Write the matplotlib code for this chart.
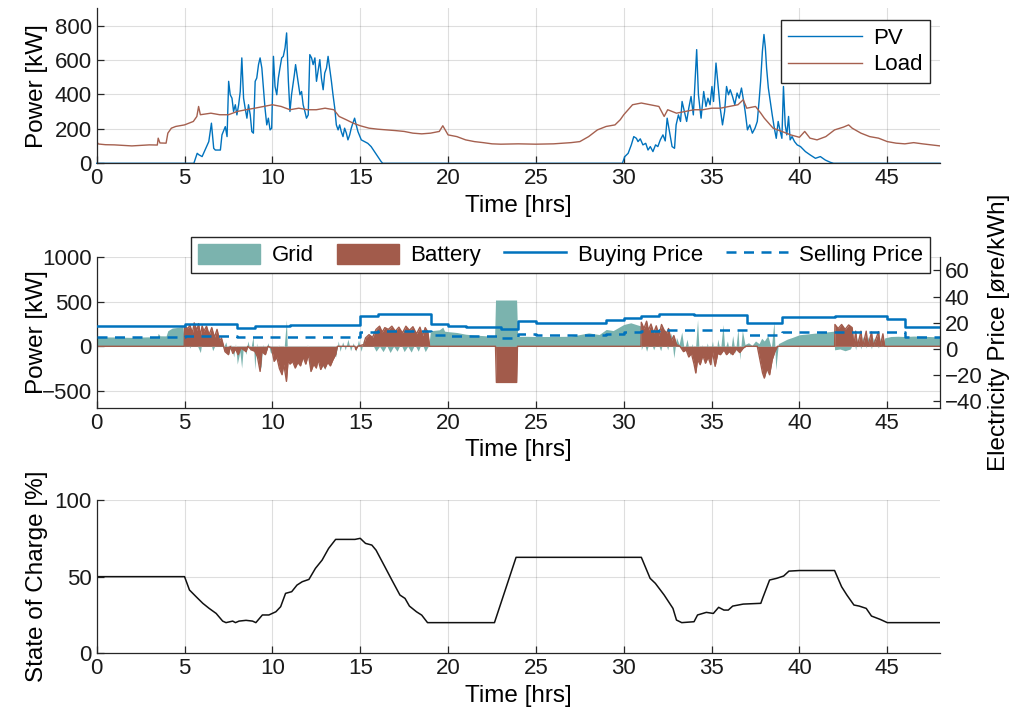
import numpy as np
import matplotlib
matplotlib.use('Agg')
import matplotlib.pyplot as plt
from matplotlib.patches import Patch
from matplotlib.lines import Line2D

# ---------------- data ----------------
hour_ticks = [0, 5, 10, 15, 20, 25, 30, 35, 40, 45]

pv_t = [0, 5.53, 5.72, 5.81, 6.0, 6.38, 6.53, 6.66, 6.75, 7.04, 7.13, 7.32, 7.42, 7.51, 7.6, 7.7,
        7.79, 7.89, 7.98, 8.08, 8.17, 8.26, 8.36, 8.45, 8.55, 8.64, 8.74, 8.83, 8.92, 9.02, 9.11,
        9.21, 9.3, 9.4, 9.49, 9.58, 9.68, 9.77, 9.87, 9.96, 10.06, 10.15, 10.25, 10.34, 10.43,
        10.53, 10.62, 10.72, 10.81, 10.91, 11.0, 11.09, 11.25, 11.32, 11.43, 11.57, 11.66, 11.75,
        11.85, 11.94, 12.04, 12.13, 12.23, 12.32, 12.42, 12.51, 12.6, 12.7, 12.79, 12.89, 12.98,
        13.08, 13.17, 13.26, 13.36, 13.45, 13.55, 13.64, 13.74, 13.83, 13.92, 14.02, 14.11, 14.21,
        14.3, 14.4, 14.49, 14.58, 14.68, 14.77, 14.87, 15.06, 15.25, 15.43, 15.62, 15.81, 16.0,
        16.19, 16.28,
        29.92, 30.06, 30.25, 30.43, 30.57, 30.72, 30.81, 30.94, 31.09, 31.25, 31.38, 31.51, 31.66,
        31.81, 31.94, 32.08, 32.23, 32.36, 32.47, 32.6, 32.75, 32.89, 32.98, 33.11, 33.23, 33.32,
        33.45, 33.58, 33.7, 33.83, 33.96, 34.08, 34.15, 34.25, 34.4, 34.55, 34.68, 34.79, 34.91,
        35.02, 35.11, 35.25, 35.38, 35.49, 35.62, 35.74, 35.85, 35.96, 36.06, 36.19, 36.32, 36.45,
        36.57, 36.7, 36.81, 36.91, 37.04, 37.17, 37.32, 37.47, 37.6, 37.7, 37.79, 37.89, 37.98,
        38.06, 38.13, 38.23, 38.34, 38.45, 38.57, 38.68, 38.79, 38.91, 39.0, 39.09, 39.19, 39.28,
        39.38, 39.47, 39.58, 39.72, 39.87, 40.06, 40.34, 40.62, 40.91, 41.19, 41.47, 41.75, 41.94,
        48]
pv_kw = [0, 0, 58, 50, 39, 126, 233, 87, 77, 77, 165, 213, 155, 476, 398, 378,
         301, 340, 281, 340, 417, 612, 378, 320, 262, 340, 281, 184, 175, 476, 495,
         573, 612, 553, 437, 320, 223, 262, 194, 204, 621, 446, 398, 495, 553,
         612, 621, 670, 757, 476, 301, 398, 514, 573, 495, 398, 417, 340,
         301, 262, 281, 631, 612, 573, 612, 476, 534, 602, 495, 427, 524,
         553, 621, 553, 476, 398, 320, 223, 194, 223, 184, 155, 204, 175,
         136, 165, 204, 233, 262, 223, 184, 136, 126, 116, 97, 68, 39,
         10, 0,
         0, 39, 58, 107, 155, 145, 126, 142, 107, 116, 77, 97, 68,
         107, 97, 136, 165, 130, 262, 184, 97, 87, 223, 281, 243, 359,
         301, 243, 320, 388, 281, 514, 660, 398, 262, 417, 330, 378, 340,
         446, 359, 582, 437, 320, 223, 301, 446, 398, 427, 388, 340, 408,
         378, 437, 369, 301, 194, 223, 175, 204, 243, 359, 476, 650, 748,
         670, 553, 437, 359, 281, 204, 145, 243, 184, 145, 446, 223, 165,
         272, 136, 155, 126, 107, 97, 68, 48, 29, 39, 19, 6, 0,
         0]

load_t = [0, 0.1, 0.5, 1, 1.5, 2, 2.5, 3, 3.45, 3.5, 3.6, 3.95, 4.05, 4.25, 4.5, 5, 5.25, 5.5,
          5.7, 5.8, 5.9, 6.5, 7, 7.5, 8, 8.5, 9, 9.5, 10, 10.5, 11, 11.5, 12, 12.5, 13, 13.5,
          13.8, 14.2, 14.6, 15, 15.5, 16, 16.5, 17, 17.5, 18, 18.5, 19, 19.5, 19.7, 20, 20.5,
          21, 21.5, 22, 22.5, 23, 24, 25, 26, 27, 27.5, 28, 28.5, 29, 29.5, 29.8, 30, 30.5, 31,
          31.5, 32, 32.3, 32.5, 33, 33.5, 34, 34.5, 35, 35.5, 36, 36.5, 36.8, 37, 37.5, 37.8,
          38, 38.5, 39, 39.5, 40, 40.3, 40.6, 41, 41.5, 42, 42.5, 42.8, 43, 43.5, 44, 44.5,
          45, 45.5, 46, 46.5, 47, 48]
load_kw = [125, 112, 108, 107, 104, 101, 104, 107, 106, 146, 118, 117, 175, 204, 214, 223, 233,
           243, 272, 330, 282, 291, 282, 282, 301, 311, 320, 330, 340, 330, 311, 320, 311, 311,
           320, 311, 272, 253, 233, 218, 204, 198, 194, 190, 185, 175, 171, 175, 185, 218, 165,
           155, 136, 126, 120, 113, 111, 113, 111, 113, 120, 126, 155, 194, 214, 223, 253, 282,
           340, 350, 340, 330, 272, 311, 291, 301, 311, 311, 320, 320, 330, 340, 369, 320, 330,
           291, 262, 204, 185, 165, 151, 185, 146, 136, 155, 194, 210, 223, 204, 175, 155, 146,
           126, 117, 113, 120, 113, 101]

grid_t = [0, 0.5, 1, 1.5, 2, 2.5, 3, 3.45, 3.5, 3.6, 3.95, 4.05, 4.3, 4.6, 4.9, 5.0, 5.15, 5.3,
          5.5, 5.7, 5.9, 6.0, 6.2, 6.4, 6.6, 6.8, 7.0, 7.2, 7.35, 7.5, 7.65, 7.8, 7.9, 8.0, 8.15,
          8.25, 8.35, 8.5, 8.6, 8.75, 8.9, 9.0, 9.1, 9.25, 9.35, 9.45, 9.6, 9.75, 9.9, 10.05,
          10.2, 10.35, 10.5, 10.65, 10.8, 10.85, 11.0, 11.2, 11.4, 11.6, 11.8, 12.0, 12.15, 12.3,
          12.5, 12.65, 12.8, 13.0, 13.15, 13.3, 13.45, 13.6, 13.75, 13.85, 14.0, 14.15, 14.3,
          14.45, 14.6, 14.75, 14.9, 15.05, 15.2, 15.35, 15.5, 15.7, 15.9, 16.1, 16.3, 16.5, 16.7,
          16.9, 17.1, 17.3, 17.5, 17.7, 17.9, 18.1, 18.3, 18.5, 18.7, 18.9, 19.0, 19.5, 19.7,
          19.8, 20, 20.5, 21, 21.5, 22, 22.5, 22.65, 22.7, 23.9, 23.96, 24.5, 25, 26, 27, 28,
          28.6, 29, 29.4, 30, 30.4, 30.7, 30.95, 31.0, 31.15, 31.3, 31.5, 31.7, 31.9, 32.1, 32.3,
          32.5, 32.7, 32.85, 33.0, 33.15, 33.3, 33.45, 33.6, 33.75, 33.9, 34.05, 34.2, 34.3,
          34.45, 34.6, 34.75, 34.9, 35.05, 35.2, 35.35, 35.5, 35.65, 35.75, 35.9, 36.05, 36.2,
          36.35, 36.5, 36.6, 36.75, 36.9, 37.1, 37.3, 37.5, 37.7, 37.85, 38.0, 38.2, 38.4, 38.55,
          38.65, 38.8, 39.0, 39.3, 39.6, 40.0, 40.5, 41.0, 41.5, 41.95, 42.0, 42.3, 42.6, 42.9,
          43.1, 43.2, 43.3, 43.5, 43.6, 43.8, 43.9, 44.1, 44.2, 44.5, 44.6, 44.75, 44.85, 45.2,
          45.6, 46, 46.5, 47, 48]
grid_kw = [110, 105, 105, 102, 100, 104, 106, 106, 145, 118, 117, 175, 205, 212, 222, 30, 60, -20,
           80, 20, -71, 60, 10, 120, -50, 40, 80, -20, 50, -90, 20, -120, 30, -200, -60,
           -244, 0, -90, 60, -50, 113, -260, 40, -150, -250, 20, -60, 40, -80, -30,
           -150, 20, -100, -60, 300, -40, -120, -30, -200, -50, -150, 20, -290, -60,
           -150, -40, -200, -260, -80, -150, -40, -120, 60, -56, 50, -40, 80,
           -50, 40, -56, 70, -56, 80, 40, 60, 20, -55, 0, -60, 10, -70,
           0, -55, 30, -60, 0, -65, 20, -55, 40, -60, 10, 175, 185, 215,
           170, 165, 155, 136, 126, 120, 113, 112, 520, 520, 112, 112, 110, 110, 113, 151,
           132, 189, 177, 245, 264, 245, 230, -40, 50, -56, 80, -40, 60, -50, 100,
           -40, 150, -131, 100, 20, 160, -50, 80, -80, 30, -120, 301, -100,
           20, -150, 40, -90, 60, -180, 80, -60, 245, -40, 60, -100, 120,
           -80, 200, -150, 180, 20, 40, 10, 60, 30, 90, 60, 120, -20, 282,
           -263, 30, 50, 80, 100, 130, 140, 150, 160, 170, -40, -30, -50, -30,
           60, -40, 100, -30, 110, -20, 110, -30, 100, -20, 100, 0, 94, 110,
           113, 110, 115, 113, 105]

batt_t = [0, 4.98, 5.0, 5.2, 5.3, 5.45, 5.55, 5.7, 5.8, 5.9, 6.0, 6.1, 6.25, 6.4, 6.55, 6.7, 6.85,
          7.0, 7.1, 7.2, 7.3, 7.5, 7.6, 7.75, 7.9, 8.05, 8.2, 8.35, 8.5, 8.6, 8.8, 9.0, 9.15, 9.3,
          9.4, 9.6, 9.75, 9.95, 10.1, 10.25, 10.4, 10.55, 10.65, 10.8, 10.9, 11.0, 11.15, 11.3,
          11.45, 11.6, 11.75, 11.9, 12.05, 12.2, 12.35, 12.5, 12.6, 12.75, 12.9, 13.0, 13.15,
          13.3, 13.45, 13.6, 13.7, 14.7, 14.75, 14.85, 15.2, 15.3, 15.5, 15.7, 15.9, 16.1, 16.25,
          16.4, 16.6, 16.8, 17.0, 17.2, 17.4, 17.6, 17.8, 18.0, 18.2, 18.4, 18.55, 18.7, 18.85,
          18.95, 22.7, 22.75, 23.9, 23.95,
          30.98, 31.0, 31.15, 31.3, 31.4, 31.55, 31.7, 31.85, 32.0, 32.15, 32.3, 32.45, 32.55,
          32.7, 32.85, 33.0, 33.2, 33.4, 33.55, 33.7, 33.85, 34.0, 34.1, 34.2, 34.35, 34.5, 34.65,
          34.8, 34.95, 35.05, 35.2, 35.35, 35.5, 35.7, 35.85, 36.0, 36.2, 36.4, 36.6, 36.8, 36.95,
          37.6, 37.75, 37.9, 38.0, 38.15, 38.3, 38.45, 38.6, 38.75, 42.0, 42.02, 42.2, 42.4,
          42.6, 42.8, 43.0, 43.1, 43.2, 43.3, 43.5, 43.6, 43.8, 43.9, 44.1, 44.2, 44.5, 44.6,
          44.75, 44.85, 48]
batt_kw = [0, 0, 226, 200, 240, 150, 263, 180, 255, 120, 230, 170, 226, 130, 210, 100, 190,
           60, 94, 20, -60, -94, 0, -80, -30, -94, -20, -38, -60, 0, -40, -56, -120, -282,
           -60, -94, 0, -20, -169, -120, -250, -319, -200, -394, -150, -200, -169, -244,
           -180, -220, -120, -200, -90, -282, -200, -244, -150, -260, -200, -244, -180,
           -220, -150, -94, 0, 0, -38, 0, 20, 94, 131, 100, 190, 226, 160,
           210, 190, 226, 170, 215, 150, 226, 180, 220, 140, 215, 120, 210, 160,
           0, 0, -406, -406, 0,
           0, 270, 200, 282, 180, 250, 150, 230, 120, 245, 180, 150, 200,
           60, 120, 20, 0, -60, -40, -120, -80, -200, -300, -150, -207, -100, -190,
           -120, -207, -60, -225, -80, -94, -40, -94, -60, -94, -30, -70, -20, 0,
           0, -150, -300, -357, -250, -320, -150, -60, 0, 0, 245, 200, 245,
           190, 240, 210, 0, 170, 0, 170, 0, 170, 0, 160, 0, 165, 0,
           140, 0, 0]

price_hours = list(range(49))
buy_price = [17.5, 17.5, 17.5, 17.5, 17.5, 18.7, 18.7, 18.7, 16.2, 17.5, 17.5, 18.6, 18.6, 18.6,
             18.6, 25.0, 26.6, 26.6, 26.6, 18.7, 17.2, 16.5, 16.5, 15.2, 21.0, 20.0, 20.0, 20.0,
             20.0, 22.0, 23.8, 25.0, 27.0, 27.0, 25.6, 25.6, 25.6, 20.0, 20.0, 24.0, 24.0, 24.0,
             25.0, 25.0, 25.0, 23.0, 17.0, 17.0]
sell_price = [9.3, 9.3, 9.3, 9.3, 9.3, 9.9, 9.9, 9.9, 9.3, 9.3, 9.3, 9.3, 9.3, 9.3,
              9.3, 13.1, 13.7, 13.7, 13.7, 10.6, 9.5, 9.5, 9.5, 8.3, 11.1, 10.8, 10.8, 10.8,
              10.8, 11.5, 13.0, 13.5, 14.4, 14.4, 14.4, 14.4, 14.4, 10.6, 10.6, 13.1, 13.1, 13.1,
              13.1, 13.1, 13.1, 12.5, 9.3, 9.3]

soc_t = [0, 5.0, 5.28, 5.66, 6.04, 6.4, 6.8, 7.17, 7.36, 7.74, 7.9, 8.1, 8.5, 8.87, 9.06, 9.43,
         9.8, 10.2, 10.47, 10.75, 11.1, 11.4, 11.7, 12.08, 12.45, 12.83, 13.2, 13.6, 14.7, 15.0,
         15.3, 15.66, 15.9, 16.4, 16.8, 17.26, 17.55, 17.8, 18.2, 18.5, 18.83, 22.64, 23.87,
         31.0, 31.5, 31.8, 32.3, 32.8, 33.0, 33.3, 34.0, 34.2, 34.7, 35.1, 35.4, 35.7, 35.95,
         36.2, 36.8, 37.8, 37.9, 38.3, 38.7, 39.1, 39.4, 40.0, 42.0, 42.4, 42.7, 43.1, 43.4,
         43.8, 44.1, 44.6, 45.0, 48]
soc = [50, 50, 41.3, 36.9, 32.6, 29.3, 26, 21, 20, 21, 20, 21, 21.5, 21, 20, 25,
       25, 27.1, 30.4, 39.1, 40.2, 44.5, 46.7, 48.2, 55.4, 60.8, 68.4, 74.3, 74.3, 75,
       71.7, 70.6, 67.3, 56.5, 47.8, 38, 35.8, 30.8, 27.1, 24.9, 20, 20, 62.6,
       62.6, 48.9, 45.6, 38, 29.3, 21.7, 20, 20.6, 25, 26.7, 26, 30, 28.2, 28.2,
       30.8, 32.1, 32.6, 35.8, 47.8, 48.9, 50.4, 53.6, 54, 54, 43.4, 38, 31.5, 30.8,
       29.3, 24.3, 22.1, 20, 20]

# ---------------- style ----------------
plt.rcParams['font.family'] = ['Liberation Sans', 'DejaVu Sans']
AXC = '#262626'
BLUE = '#0072BD'
LOADC = '#A5604F'
TEAL = '#7BB3AE'
RED = '#A25B4B'
TICK_FS = 16
LAB_FS = 17.5

fig = plt.figure(figsize=(10.13, 7.2), dpi=100)
W, H = 1013.0, 720.0


def rect(l, t, r, b):
    return [l / W, 1 - b / H, (r - l) / W, (b - t) / H]


def style(ax):
    ax.set_xlim(0, 48)
    ax.set_xticks(hour_ticks)
    ax.grid(True, color=AXC, alpha=0.15, linewidth=0.8)
    ax.set_axisbelow(True)
    for s in ['top', 'right']:
        ax.spines[s].set_visible(False)
    for s in ['left', 'bottom']:
        ax.spines[s].set_color(AXC)
        ax.spines[s].set_linewidth(0.9)
    ax.tick_params(direction='in', length=5, width=0.9, labelsize=TICK_FS, colors=AXC,
                   labelcolor='#1a1a1a')
    ax.set_xlabel('Time [hrs]', fontsize=LAB_FS, labelpad=4)


ax1 = fig.add_axes(rect(96.7, 8.3, 940, 163.3))
ax2 = fig.add_axes(rect(96.7, 257.3, 940, 407.7))
ax3 = fig.add_axes(rect(96.7, 500, 940, 653.3))

# --- top: PV and load
style(ax1)
l_pv, = ax1.plot(pv_t, pv_kw, color=BLUE, lw=1.0, clip_on=False)
l_load, = ax1.plot(load_t, load_kw, color=LOADC, lw=1.0)
ax1.set_ylim(0, 900)
ax1.set_yticks([0, 200, 400, 600, 800])
ax1.set_ylabel('Power [kW]', fontsize=LAB_FS)
ax1.legend([l_pv, l_load], ['PV', 'Load'], loc='upper right',
           bbox_to_anchor=(930 / W, 1 - 20 / H), bbox_transform=fig.transFigure,
           borderaxespad=0, fancybox=False, edgecolor=AXC, framealpha=1,
           fontsize=TICK_FS, handlelength=3.3, handletextpad=0.5, borderpad=0.35,
           labelspacing=0.25)

# --- middle: grid / battery / prices
style(ax2)
ax2.fill_between(grid_t, 0, grid_kw, color=TEAL, lw=0)
ax2.fill_between(batt_t, 0, batt_kw, color=RED, lw=0)
ax2.plot(batt_t, batt_kw, color=RED, lw=1.0)
ax2.set_ylim(-690, 1000)
ax2.set_yticks([-500, 0, 500, 1000])
ax2.set_ylabel('Power [kW]', fontsize=LAB_FS)

ax2r = ax2.twinx()
ax2r.set_position(ax2.get_position())
ax2r.step(price_hours, buy_price + [buy_price[-1]], where='post', color=BLUE, lw=1.8)
ax2r.step(price_hours, sell_price + [sell_price[-1]], where='post', color=BLUE, lw=1.8,
          linestyle=(0, (4, 3)))
ax2r.set_ylim(-45, 70)
ax2r.set_yticks([-40, -20, 0, 20, 40, 60])
for s in ['top', 'left', 'bottom']:
    ax2r.spines[s].set_visible(False)
ax2r.spines['right'].set_color(AXC)
ax2r.spines['right'].set_linewidth(0.9)
ax2r.tick_params(direction='in', length=5, width=0.9, labelsize=TICK_FS, colors=AXC,
                 labelcolor='#1a1a1a')
ax2r.set_xlim(0, 48)
ax2r.set_ylabel('Electricity Price [øre/kWh]', fontsize=LAB_FS)

handles = [Patch(facecolor=TEAL, edgecolor=TEAL), Patch(facecolor=RED, edgecolor=RED),
           Line2D([], [], color=BLUE, lw=1.8), Line2D([], [], color=BLUE, lw=1.8, linestyle=(0, (4, 3)))]
ax2r.legend(handles, ['Grid', 'Battery', 'Buying Price', 'Selling Price'], ncol=4,
            loc='upper right', bbox_to_anchor=(930 / W, 1 - 237 / H),
            bbox_transform=fig.transFigure, borderaxespad=0, fancybox=False, edgecolor=AXC,
            framealpha=1, fontsize=TICK_FS, handlelength=2.8, handleheight=1.0,
            handletextpad=0.5, columnspacing=1.05, borderpad=0.3)

# --- bottom: state of charge
style(ax3)
ax3.plot(soc_t, soc, color='#111111', lw=1.1)
ax3.set_ylim(0, 100)
ax3.set_yticks([0, 50, 100])
ax3.set_ylabel('State of Charge [%]', fontsize=LAB_FS)

for ax in (ax1, ax2, ax3):
    ax.yaxis.set_label_coords(-0.058, 0.5)

fig.savefig('out.png', dpi=100)
